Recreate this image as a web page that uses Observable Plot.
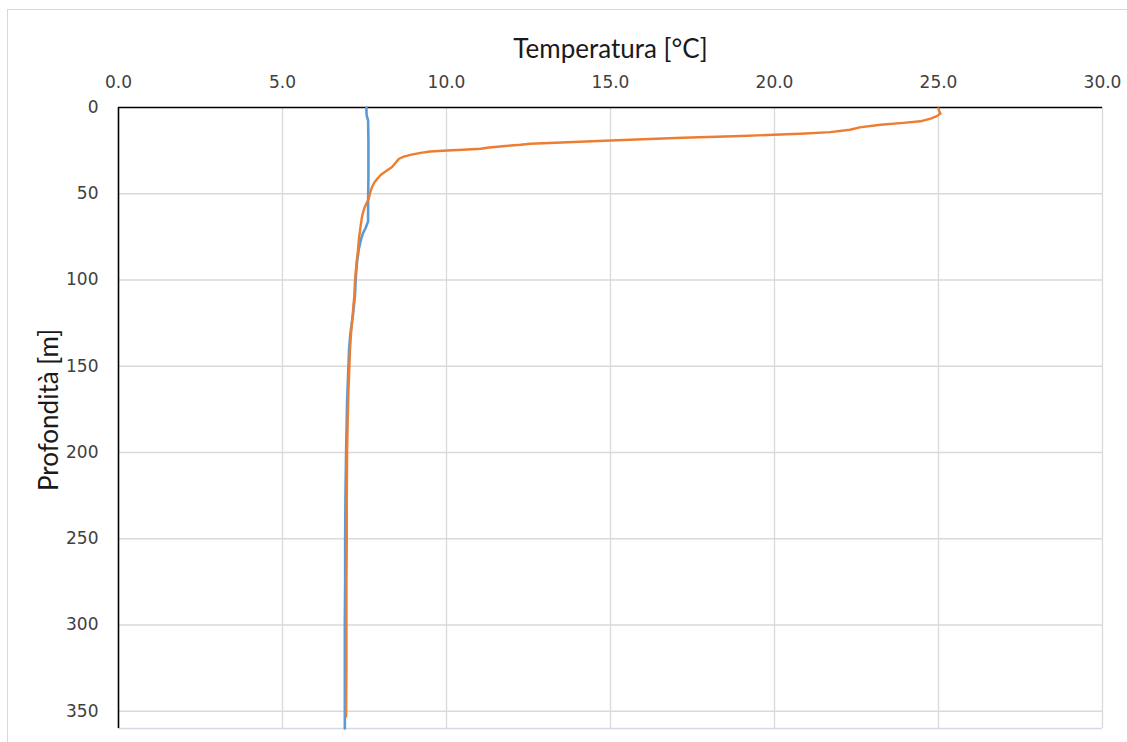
<!DOCTYPE html>
<html>
<head>
<meta charset="utf-8">
<script src="https://cdn.jsdelivr.net/npm/d3@7"></script>
<script src="https://cdn.jsdelivr.net/npm/@observablehq/plot@0.6"></script>
<style>
  html, body { margin: 0; padding: 0; background: #fff; overflow: hidden; }
  #wrap { position: relative; width: 1127px; height: 742px; }
  #border { position: absolute; left: 7px; top: 9px; width: 1200px; height: 800px;
            border-left: 1px solid #d9d9d9; border-top: 1px solid #d9d9d9; pointer-events: none; }
  #chart { position: absolute; left: 0; top: 0; }
</style>
</head>
<body>
<div id="wrap">
  <div id="chart"></div>
  <div id="border"></div>
</div>
<script>
// Temperature profiles: depth [m] vs temperature [°C]
const tempTicks = [0, 5, 10, 15, 20, 25, 30];
const depthTicks = [0, 50, 100, 150, 200, 250, 300, 350];

// Profile 1 (blue): nearly isothermal column
const blueDepth = [0, 3, 5, 7.5, 20, 40, 55, 66, 70, 73, 76, 81.7, 90, 100, 109, 120, 131, 140, 150, 170, 199, 225, 250, 275, 300, 330, 360];
const blueTemp  = [7.56, 7.56, 7.57, 7.61, 7.62, 7.62, 7.61, 7.61, 7.53, 7.45, 7.40, 7.33, 7.27, 7.23, 7.21, 7.15, 7.07, 7.03, 7.01, 6.97, 6.94, 6.92, 6.91, 6.91, 6.90, 6.90, 6.90];

// Profile 2 (orange): stratified column with a sharp thermocline
const orangeDepth = [0.5, 2, 3.5, 5, 6.4, 8, 8.9, 10, 11.5, 12.9, 14.3, 15.2, 15.8, 16.5, 17.5, 19.1, 20.3, 21.0, 21.6, 22.3, 23.2, 23.9, 24.5, 24.9, 25.5, 26.3, 27.5, 28.5, 29.7, 32, 34.5, 37.1, 39, 41.3, 43.5, 46.1, 49.5, 52.9, 54.8, 58, 62.6, 69, 76.1, 82.9, 89.6, 100, 109, 120, 131, 140, 150, 165, 180, 199, 225, 250, 275, 300, 325, 353];
const orangeTemp  = [25.0, 25.02, 25.06, 24.95, 24.76, 24.45, 23.93, 23.23, 22.6, 22.3, 21.7, 20.8, 19.97, 19.0, 17.2, 15.0, 13.5, 12.56, 12.26, 11.8, 11.3, 11.04, 10.5, 10.02, 9.5, 9.21, 8.9, 8.7, 8.55, 8.45, 8.34, 8.14, 8.0, 7.89, 7.8, 7.73, 7.67, 7.63, 7.58, 7.50, 7.43, 7.38, 7.33, 7.30, 7.26, 7.21, 7.19, 7.14, 7.09, 7.06, 7.04, 7.01, 6.99, 6.97, 6.96, 6.96, 6.95, 6.95, 6.95, 6.94];

const blue = blueDepth.map((d, i) => ({depth: d, temp: blueTemp[i]}));
const orange = orangeDepth.map((d, i) => ({depth: d, temp: orangeTemp[i]}));

const chart = Plot.plot({
  width: 1127,
  height: 742,
  marginLeft: 118,
  marginRight: 25,
  marginTop: 107,
  marginBottom: 14,
  style: {fontFamily: "DejaVu Sans", fontSize: "17px", color: "#404040", background: "transparent", overflow: "visible"},
  x: {domain: [0, 30]},
  y: {domain: [0, 360], reverse: true},
  marks: [
    Plot.gridX(tempTicks.slice(1), {stroke: "#d9d9d9", strokeOpacity: 1, strokeWidth: 1.3}),
    Plot.gridY(depthTicks.slice(1), {stroke: "#d9d9d9", strokeOpacity: 1, strokeWidth: 1.3}),
    Plot.ruleY([360], {stroke: "#d3dae4", strokeWidth: 1.3}),
    Plot.axisX(tempTicks, {anchor: "top", tickSize: 0, tickPadding: 20, tickFormat: d => d.toFixed(1), label: null, fill: "#404040"}),
    Plot.axisY(depthTicks, {anchor: "left", tickSize: 0, tickPadding: 20, label: null, fill: "#404040"}),
    Plot.ruleY([0], {stroke: "#000", strokeWidth: 1.6}),
    Plot.ruleX([0], {stroke: "#000", strokeWidth: 1.6}),
    Plot.line(blue, {x: "temp", y: "depth", stroke: "#5B9BD5", strokeWidth: 2.6}),
    Plot.line(orange, {x: "temp", y: "depth", stroke: "#ED7D31", strokeWidth: 2.4}),
    Plot.text(["Temperatura [°C]"], {frameAnchor: "top", dy: -57.6, lineAnchor: "middle", textAnchor: "middle", fontSize: 26, fontFamily: "Lato", fill: "#1a1a1a"}),
    Plot.text(["Profondità [m]"], {frameAnchor: "left", dx: -69, dy: -8, rotate: -90, lineAnchor: "middle", textAnchor: "middle", fontSize: 26, fontFamily: "Lato", fill: "#1a1a1a"})
  ]
});
document.getElementById("chart").appendChild(chart);
</script>
</body>
</html>
